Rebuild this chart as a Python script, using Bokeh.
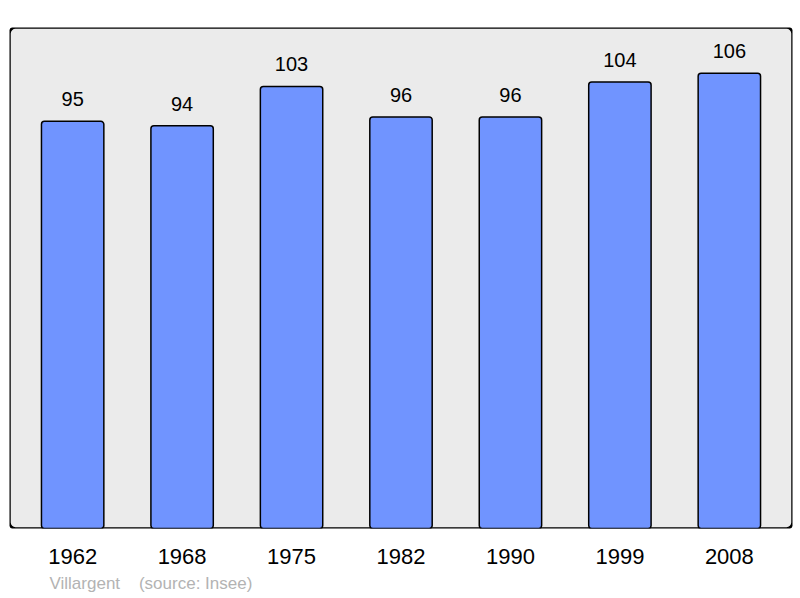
from bokeh.plotting import figure
from bokeh.models import ColumnDataSource, FactorRange, Range1d, Title, BoxAnnotation
from bokeh.embed import file_html
from bokeh.resources import INLINE
from bokeh.core.properties import value

years = ["1962", "1968", "1975", "1982", "1990", "1999", "2008"]
population = [95, 94, 103, 96, 96, 104, 106]
labels = [str(v) for v in population]

src = ColumnDataSource(data=dict(year=years, pop=population, label=labels))

p = figure(width=800, height=598, output_backend="svg", toolbar_location=None,
           x_range=FactorRange(*years, range_padding=0.022),
           y_range=Range1d(1.7, 116.5),
           min_border_left=9, min_border_right=8, min_border_top=27, min_border_bottom=70)

p.background_fill_color = "white"
p.border_fill_color = "white"
p.outline_line_color = None
p.grid.visible = False
p.yaxis.visible = False

box = BoxAnnotation(fill_color="#ebebeb", fill_alpha=1.0, line_color="black",
                    line_width=2.5, line_alpha=1.0, border_radius=6, level="underlay")
p.add_layout(box)

p.vbar(x="year", top="pop", bottom=0, width=0.57, source=src,
       fill_color="#7094ff", line_color="black", line_width=1.5, border_radius=3)

p.text(x="year", y="pop", text="label", source=src, text_align="center",
       text_baseline="alphabetic", y_offset=-22, text_font_size="20px",
       text_font=value("Liberation Sans"), text_color="black")

xa = p.xaxis[0]
xa.axis_line_color = None
xa.major_tick_line_color = None
xa.minor_tick_line_color = None
xa.major_tick_out = 0
xa.major_tick_in = 0
xa.major_label_standoff = 20
xa.major_label_text_font_size = "22px"
xa.major_label_text_font = "Liberation Sans"
xa.major_label_text_color = "black"

footer = Title(text="Villargent\u00a0\u00a0\u00a0\u00a0(source: Insee)", align="left", offset=40,
               text_font_size="17px", text_font="Liberation Sans",
               text_color="#b3b3b3", text_font_style="normal", standoff=11)
p.add_layout(footer, "below")

open("out.html", "w").write(file_html(p, INLINE))
